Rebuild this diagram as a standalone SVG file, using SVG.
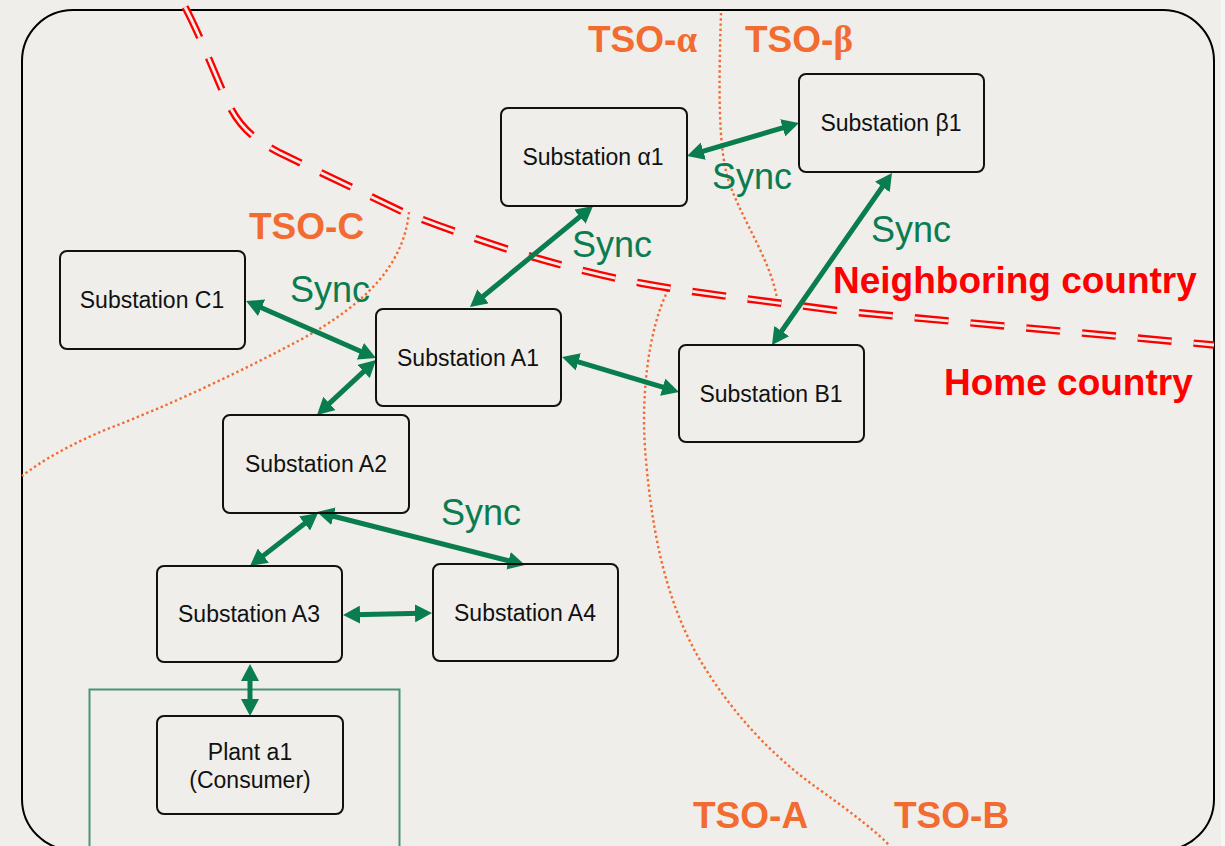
<svg xmlns="http://www.w3.org/2000/svg" width="1225" height="846" viewBox="0 0 1225 846">
<style>
.node rect{fill:none;stroke:#111;stroke-width:2}
.node text{font-family:"Liberation Sans",Arial,sans-serif;font-size:23px;fill:#111;text-anchor:middle}
.sync{font-family:"Liberation Sans",Arial,sans-serif;font-size:36px;fill:#0B7C50}
.tso{font-family:"Liberation Sans",Arial,sans-serif;font-size:37px;font-weight:bold;fill:#F26B30}
.country{font-family:"Liberation Sans",Arial,sans-serif;font-size:37px;font-weight:bold;fill:#FF0000}
.greek{font-family:"Liberation Serif","Times New Roman",serif}
.conn line{stroke:#0A7D4E;stroke-width:5;marker-start:url(#ah);marker-end:url(#ah)}
.dot{fill:none;stroke:#F26B30;stroke-width:2.4;stroke-dasharray:2.4 2.8}
.bord1{fill:none;stroke:#FF0000;stroke-width:7.5;stroke-dasharray:34 22}
.bord2{fill:none;stroke:#EFEEEA;stroke-width:2.8;stroke-dasharray:34 22}
</style>
<defs>
<marker id="ah" viewBox="0 0 17 18" refX="7" refY="9" markerWidth="17" markerHeight="18" markerUnits="userSpaceOnUse" orient="auto-start-reverse">
<path d="M0,0 L17,9 L0,18 z" fill="#0A7D4E"/>
</marker>
</defs>
<rect x="0" y="0" width="1225" height="846" fill="#EFEEEA"/>
<rect x="1221" y="0" width="4" height="846" fill="#F6F6F4"/>
<rect id="frame" x="22" y="10" width="1192" height="840" rx="51" ry="51" fill="none" stroke="#000" stroke-width="2"/>

<g id="borders">
<path class="dot" d="M409,212 C404,262 370,302 300,340 C240,372 170,405 110,428 C70,444 40,462 22,476"/>
<path class="dot" d="M721,13 C719,80 717,150 730,185 C745,225 770,260 777,298"/>
<path class="dot" d="M668,290 C648,330 640,400 646,460 C652,530 665,600 700,660 C730,710 770,755 820,790 C855,815 880,835 890,846"/>
<path class="bord1" d="M185,7 C200,35 215,75 228,103 C240,128 255,140 280,153 L403,212 C480,242 560,268 640,283 C700,294 760,300 840,311 L1214,345"/>
<path class="bord2" d="M185,7 C200,35 215,75 228,103 C240,128 255,140 280,153 L403,212 C480,242 560,268 640,283 C700,294 760,300 840,311 L1214,345"/>
</g>

<rect id="plant-area" x="89.5" y="689.5" width="310" height="170" fill="none" stroke="#4A9477" stroke-width="2"/>

<g id="labels">
<text class="tso" x="588" y="52">TSO-<tspan class="greek">α</tspan></text>
<text class="tso" x="745" y="52">TSO-<tspan class="greek">β</tspan></text>
<text class="tso" x="249" y="239">TSO-C</text>
<text class="tso" x="693" y="828">TSO-A</text>
<text class="tso" x="894" y="828">TSO-B</text>
<text class="country" x="833" y="293">Neighboring country</text>
<text class="country" x="944" y="395">Home country</text>
<text class="sync" x="712" y="189">Sync</text>
<text class="sync" x="572" y="257">Sync</text>
<text class="sync" x="871" y="242">Sync</text>
<text class="sync" x="290" y="302">Sync</text>
<text class="sync" x="441" y="525">Sync</text>
</g>

<g id="connectors" class="conn">
<line x1="696.6" y1="153.2" x2="789.4" y2="125.8"/>
<line x1="585.3" y1="212.3" x2="477.7" y2="300.7"/>
<line x1="886.3" y1="181.2" x2="777.7" y2="336.8"/>
<line x1="255.2" y1="305.0" x2="366.8" y2="354.0"/>
<line x1="368.7" y1="366.8" x2="324.3" y2="408.2"/>
<line x1="571.6" y1="359.8" x2="669.4" y2="389.2"/>
<line x1="310.1" y1="519.2" x2="257.9" y2="559.9"/>
<line x1="326.7" y1="514.5" x2="515.3" y2="562.5"/>
<line x1="353" y1="614.8" x2="422" y2="613.2"/>
<line x1="250" y1="674" x2="250" y2="706"/>
</g>

<g id="sub-alpha1" class="node"><rect x="501" y="108" width="186" height="98" rx="7"/><text x="593" y="165">Substation α1</text></g>
<g id="sub-beta1" class="node"><rect x="799" y="74" width="185" height="98" rx="7"/><text x="891" y="131">Substation β1</text></g>
<g id="sub-C1" class="node"><rect x="60" y="251" width="185" height="98" rx="7"/><text x="152" y="308">Substation C1</text></g>
<g id="sub-A1" class="node"><rect x="376" y="309" width="185" height="97" rx="7"/><text x="468" y="366">Substation A1</text></g>
<g id="sub-B1" class="node"><rect x="679" y="345" width="185" height="97" rx="7"/><text x="771" y="402">Substation B1</text></g>
<g id="sub-A2" class="node"><rect x="223" y="415" width="186" height="98" rx="7"/><text x="316" y="472">Substation A2</text></g>
<g id="sub-A3" class="node"><rect x="157" y="566" width="185" height="96" rx="7"/><text x="249" y="622">Substation A3</text></g>
<g id="sub-A4" class="node"><rect x="433" y="564" width="185" height="97" rx="7"/><text x="525" y="621">Substation A4</text></g>
<g id="plant-a1" class="node"><rect x="157" y="716" width="186" height="98" rx="7"/><text x="250" y="760">Plant a1</text><text x="250" y="788">(Consumer)</text></g>
</svg>
